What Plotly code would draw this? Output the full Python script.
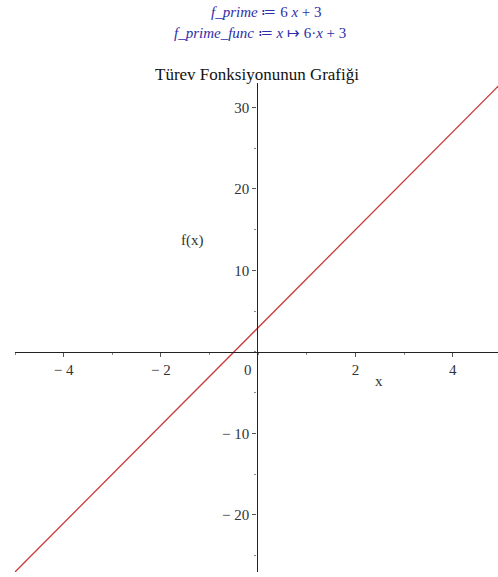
import plotly.graph_objects as go

# f'(x) = 6x + 3 sampled at the ends of the visible domain
x_vals = [-5, 5]
slope = 6
intercept = 3
y_vals = [slope * v + intercept for v in x_vals]

x_ticks = [-4, -2, 2, 4]
x_tick_text = ["\u2212 4", "\u2212 2", "2", "4"]
y_ticks = [-20, -10, 10, 20, 30]
y_tick_text = ["\u2212 20", "\u2212 10", "10", "20", "30"]

serif = "Liberation Serif, Times New Roman, serif"
blue = "#2e2ea8"
ink = "#333333"

fig = go.Figure()
fig.add_trace(go.Scatter(
    x=x_vals, y=y_vals, mode="lines",
    line=dict(color="#c83a3a", width=1.3),
    hoverinfo="skip", showlegend=False,
))

axis_common = dict(
    showgrid=False, zeroline=False, showline=True,
    linecolor="#222222", linewidth=1.4,
    ticks="outside", ticklen=4, tickcolor="#555555", tickwidth=1,
    tickfont=dict(family=serif, size=15, color=ink),
    anchor="free",
)

fig.update_layout(
    width=498, height=577,
    margin=dict(l=15, r=0, t=83, b=5),
    paper_bgcolor="white", plot_bgcolor="white",
    xaxis=dict(range=[-5, 4.93], tickvals=x_ticks, ticktext=x_tick_text,
               position=0.45,
               minor=dict(ticks="outside", ticklen=2, tickcolor="#888888",
                          dtick=1),
               **axis_common),
    yaxis=dict(range=[-27, 33], tickvals=y_ticks, ticktext=y_tick_text,
               position=0.5,
               minor=dict(ticks="outside", ticklen=2, tickcolor="#888888",
                          dtick=5),
               **axis_common),
    font=dict(family=serif),
)

# header lines, positioned by pixel offset above the plot area
headers = [
    ("<i>f_prime</i> \u2254 6 <i>x</i> + 3", 0.52, 12, 15, blue),
    ("<i>f_prime_func</i> \u2254 <i>x</i> \u21a6 6\u00b7<i>x</i> + 3",
     0.508, 33, 15, blue),
    ("Türev Fonksiyonunun Grafiği", 0.5, 74, 17, "#111111"),
]
for text, px, py, size, color in headers:
    fig.add_annotation(xref="paper", yref="paper", x=px,
                       y=1 + (83 - py) / 489, yanchor="middle",
                       text=text, showarrow=False,
                       font=dict(family=serif, size=size, color=color))

# origin label sits just left of the vertical axis
fig.add_annotation(x=0, y=0, xanchor="right", yanchor="top",
                   xshift=-4, yshift=-8, text="0", showarrow=False,
                   font=dict(family=serif, size=15, color=ink))

fig.add_annotation(x=-1.35, y=13.7, text="f(x)", showarrow=False,
                   font=dict(family=serif, size=15, color=ink))
fig.add_annotation(x=2.48, y=-3.6, text="x", showarrow=False,
                   font=dict(family=serif, size=15, color=ink))

fig.write_html("out.html")
